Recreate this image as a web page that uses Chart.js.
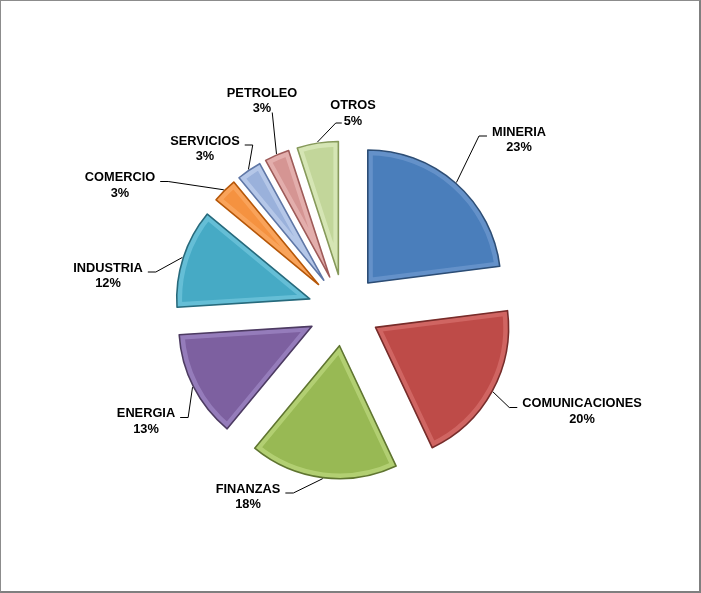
<!DOCTYPE html>
<html>
<head>
<meta charset="utf-8">
<script src="https://cdn.jsdelivr.net/npm/chart.js@4.4.1/dist/chart.umd.min.js"></script>
<style>
  body { margin: 0; background: #fff; }
  #marco { position: relative; width: 701px; height: 593px; }
  #borde { position: absolute; left: 0; top: 0; width: 701px; height: 593px; box-sizing: border-box;
           border-left: 1px solid #8c8c8c; border-top: 1px solid #8c8c8c;
           border-right: 2px solid #7f7f7f; border-bottom: 2px solid #7f7f7f; pointer-events: none; }
  canvas { position: absolute; left: 0; top: 0; }
</style>
</head>
<body>
<div id="marco">
  <canvas id="grafico" width="701" height="593"></canvas>
  <div id="borde"></div>
</div>
<script>
// Datos del grafico
const sectores = ["MINERIA", "COMUNICACIONES", "FINANZAS", "ENERGIA", "INDUSTRIA", "COMERCIO", "SERVICIOS", "PETROLEO", "OTROS"];
const porcentajes = [23, 20, 18, 13, 12, 3, 3, 3, 5];

// Estilos
const colores = ["#4A7EBB", "#BE4B48", "#98B954", "#7D60A0", "#46AAC5", "#F59240", "#9AB1DB", "#D59593", "#C2D69A"];
const bordes = ["#2C4D75", "#772C2A", "#5F7530", "#4D3B62", "#276A7C", "#B65708", "#5F77A6", "#9E5B59", "#86995A"];
const brillos = ["rgba(140,175,222,0.4)", "rgba(235,140,138,0.4)", "rgba(210,235,150,0.45)", "rgba(180,160,220,0.45)",
                 "rgba(140,215,235,0.45)", "rgba(255,190,130,0.4)", "rgba(215,226,248,0.45)", "rgba(245,205,203,0.45)", "rgba(232,243,205,0.5)"];

// Posicion de etiquetas respecto al centro del pastel (dx, dy) y tipo de guia
const posEtiquetas = [
  [175, -170.5, "lado"], [238, 101, "lado"], [-96, 186.5, "lado"], [-198, 111, "lado"], [-236, -34.5, "lado"],
  [-224, -125, "lado"], [-139, -161.5, "lado"], [-82, -209.5, "debajo"], [9, -197, "segunda"]
];

const SEPARACION = 36; // desplazamiento de cada porcion
const RADIO = 133;

// Dibujar porciones separadas
const porcionesSeparadas = {
  id: "porcionesSeparadas",
  beforeDatasetDraw(chart, args) {
    const ctx = chart.ctx;
    args.meta.data.forEach((arc, i) => {
      const a = (arc.startAngle + arc.endAngle) / 2;
      ctx.save();
      ctx.translate(Math.cos(a) * SEPARACION, Math.sin(a) * SEPARACION);
      arc.draw(ctx);
      ctx.beginPath();
      ctx.moveTo(arc.x, arc.y);
      ctx.arc(arc.x, arc.y, arc.outerRadius, arc.startAngle, arc.endAngle);
      ctx.closePath();
      ctx.lineWidth = 1.6;
      ctx.lineJoin = "round";
      ctx.strokeStyle = bordes[i];
      ctx.stroke();
      ctx.restore();
    });
    return false;
  },
  afterDatasetsDraw(chart) {
    const ctx = chart.ctx;
    const meta = chart.getDatasetMeta(0);
    ctx.save();
    ctx.font = "bold 12.8px 'Liberation Sans', Arial, sans-serif";
    ctx.textAlign = "center";
    ctx.textBaseline = "middle";
    meta.data.forEach((arc, i) => {
      const a = (arc.startAngle + arc.endAngle) / 2;
      const cx = arc.x + posEtiquetas[i][0];
      const cy = arc.y + posEtiquetas[i][1];
      const linea1 = sectores[i];
      const linea2 = porcentajes[i] + "%";
      ctx.fillStyle = "#000";
      ctx.fillText(linea1, cx, cy - 7.5);
      ctx.fillText(linea2, cx, cy + 8);

      // Linea guia
      const px = arc.x + Math.cos(a) * (SEPARACION + arc.outerRadius + 1);
      const py = arc.y + Math.sin(a) * (SEPARACION + arc.outerRadius + 1);
      const w1 = ctx.measureText(linea1).width;
      const w2 = ctx.measureText(linea2).width;
      const puntos = [];
      const tipo = posEtiquetas[i][2];
      if (tipo === "lado") {
        const izq = px < cx;
        const ax = izq ? cx - w1 / 2 - 5 : cx + w1 / 2 + 5;
        const ay = cy - 3.5;
        const ex = izq ? ax - 8 : ax + 8;
        puntos.push([ax, ay], [ex, ay], [px, py]);
      } else if (tipo === "debajo") {
        puntos.push([cx + w2 / 2 + 1, cy + 12], [px, py]);
      } else {
        const ax = cx - w2 / 2 - 2;
        const ay = cy + 10;
        puntos.push([ax, ay], [ax - 6, ay], [px, py]);
      }
      ctx.beginPath();
      ctx.moveTo(puntos[0][0], puntos[0][1]);
      puntos.slice(1).forEach(p => ctx.lineTo(p[0], p[1]));
      ctx.strokeStyle = "#000";
      ctx.lineWidth = 1;
      ctx.stroke();
    });
    ctx.restore();
  }
};

new Chart(document.getElementById("grafico"), {
  type: "pie",
  data: {
    labels: sectores,
    datasets: [{
      data: porcentajes,
      backgroundColor: colores,
      borderColor: brillos,
      borderWidth: 5,
      borderAlign: "inner",
      radius: RADIO
    }]
  },
  options: {
    responsive: false,
    animation: false,
    layout: { padding: { left: 0, right: 13, top: 27, bottom: 0 } },
    plugins: {
      legend: { display: false },
      tooltip: { enabled: false }
    }
  },
  plugins: [porcionesSeparadas]
});
</script>
</body>
</html>
